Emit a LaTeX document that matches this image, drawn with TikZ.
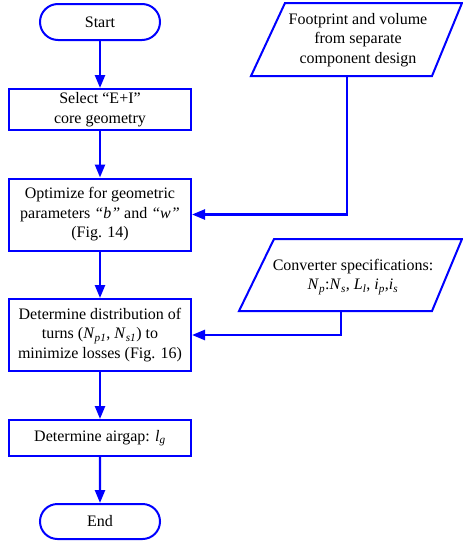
\documentclass[tikz,border=0pt]{standalone}
\usepackage{fontspec}
\setmainfont{Liberation Serif}
\usetikzlibrary{arrows.meta,shapes.misc}
\definecolor{fblue}{RGB}{0,0,255}
\begin{document}
\begin{tikzpicture}[x=1pt,y=-1pt,
  every node/.style={font=\fontsize{16}{19.5}\selectfont, align=center, inner sep=0pt},
  term/.style={draw=fblue, line width=2pt, rounded rectangle, minimum width=120pt, minimum height=36pt},
  proc/.style={draw=fblue, line width=2pt, rectangle, minimum width=182pt},
  io/.style={draw=fblue, line width=2pt, line join=miter},
  flow/.style={draw=fblue, line width=2.4pt, -{Triangle[length=13pt,width=10pt]}}
]
\useasboundingbox (0,0) rectangle (463,546);
\node[term] (start) at (100,22) {Start};
\node[proc, minimum height=41pt] (select) at (100,109.5) {Select “E+I”\\core geometry};
\node[proc, minimum height=72pt] (opt) at (100,214.5) {Optimize for geometric\\parameters \textit{“b”} and \textit{“w”}\\(Fig. 14)};
\node[proc, minimum height=72pt] (dist) at (100,335) {Determine distribution of\\turns (\textit{N}\textsubscript{\textit{p1}}, \textit{N}\textsubscript{\textit{s1}}) to\\minimize losses (Fig. 16)};
\node[proc, minimum height=36pt] (gap) at (100,438) {Determine airgap: \textit{l}\textsubscript{\textit{g}}};
\node[term, minimum height=35pt] (end) at (100,521.5) {End};

\draw[io] (285,3) -- (462,3) -- (432,76) -- (251,76) -- cycle;
\node (foot) at (358,40) {Footprint and volume\\from separate\\component design};
\draw[io] (274,239) -- (462,239) -- (432,311) -- (239,311) -- cycle;
\node (conv) at (353,277) {Converter specifications:\\\textit{N}\textsubscript{\textit{p}}:\textit{N}\textsubscript{\textit{s}}, \textit{L}\textsubscript{\textit{l}}, \textit{i}\textsubscript{\textit{p}},\textit{i}\textsubscript{\textit{s}}};
\coordinate (fb) at (347,76);
\coordinate (cb) at (341,311);

\draw[flow] (start) -- (select);
\draw[flow] (select) -- (opt);
\draw[flow] (opt) -- (dist);
\draw[flow] (dist) -- (gap);
\draw[flow] (gap) -- (end);
\draw[flow] (fb) |- (opt.east);
\draw[flow] (cb) |- (dist.east);
\end{tikzpicture}
\end{document}
